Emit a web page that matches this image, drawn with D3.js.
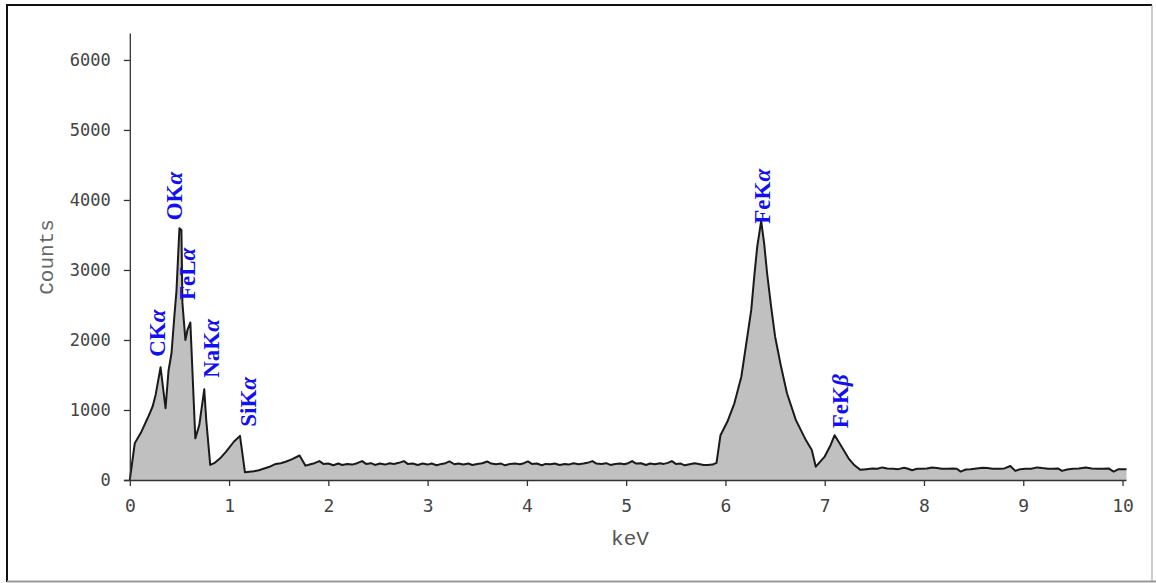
<!DOCTYPE html>
<html>
<head>
<meta charset="utf-8">
<title>EDS spectrum</title>
<script src="https://cdn.jsdelivr.net/npm/d3@7"></script>
<style>
  body { margin: 0; background: #fff; }
</style>
</head>
<body>
<svg width="1156" height="583"></svg>
<script>
// spectrum
const keV = [
  0.00, 0.05, 0.11, 0.18, 0.23, 0.26, 0.31, 0.36, 0.39, 0.42, 0.45, 0.47, 0.50, 0.52, 0.53, 0.56, 0.58, 0.61,
  0.66, 0.70, 0.75, 0.77, 0.81, 0.85, 0.91, 0.97, 1.05, 1.11, 1.16, 1.25, 1.30, 1.40, 1.47, 1.52, 1.57, 1.63,
  1.71, 1.77, 1.82, 1.86, 1.91, 1.95, 2.00, 2.05, 2.10, 2.14, 2.19, 2.24, 2.29, 2.34, 2.38, 2.43, 2.47, 2.52,
  2.57, 2.62, 2.66, 2.71, 2.76, 2.80, 2.85, 2.90, 2.95, 3.00, 3.04, 3.09, 3.14, 3.18, 3.22, 3.27, 3.31, 3.36,
  3.41, 3.45, 3.50, 3.55, 3.60, 3.64, 3.69, 3.74, 3.78, 3.83, 3.88, 3.93, 3.97, 4.01, 4.05, 4.10, 4.15, 4.19,
  4.24, 4.28, 4.33, 4.38, 4.42, 4.47, 4.52, 4.57, 4.61, 4.66, 4.70, 4.75, 4.80, 4.84, 4.89, 4.94, 4.98, 5.02,
  5.06, 5.10, 5.15, 5.20, 5.24, 5.29, 5.34, 5.38, 5.42, 5.46, 5.50, 5.55, 5.59, 5.64, 5.69, 5.73, 5.78, 5.82,
  5.87, 5.91, 5.95, 6.02, 6.09, 6.16, 6.21, 6.26, 6.29, 6.32, 6.36, 6.39, 6.42, 6.46, 6.50, 6.56, 6.62, 6.71,
  6.81, 6.87, 6.91, 7.00, 7.06, 7.10, 7.16, 7.24, 7.30, 7.36, 7.42, 7.48, 7.53, 7.58, 7.63, 7.69, 7.74, 7.80,
  7.84, 7.88, 7.93, 7.98, 8.03, 8.08, 8.13, 8.18, 8.24, 8.29, 8.33, 8.37, 8.42, 8.47, 8.53, 8.59, 8.64, 8.69,
  8.75, 8.81, 8.87, 8.92, 8.97, 9.02, 9.08, 9.14, 9.19, 9.25, 9.30, 9.35, 9.39, 9.44, 9.50, 9.56, 9.63, 9.69,
  9.75, 9.80, 9.86, 9.91, 9.96, 10.04
];
const counts = [
  0, 525, 670, 885, 1050, 1215, 1610, 1025, 1560, 1810, 2360, 2700, 3595, 3570, 2530, 2000, 2140, 2250,
  595, 785, 1295, 855, 215, 240, 310, 405, 550, 630, 110, 125, 140, 185, 230, 240, 260, 295,
  350, 205, 225, 240, 270, 230, 235, 210, 235, 215, 230, 220, 240, 270, 230, 240, 215, 235,
  220, 240, 230, 245, 270, 230, 235, 215, 235, 220, 235, 210, 230, 240, 265, 225, 235, 220,
  235, 215, 230, 240, 265, 235, 225, 235, 210, 230, 235, 225, 240, 265, 230, 235, 210, 230,
  225, 235, 215, 230, 220, 240, 225, 235, 245, 270, 235, 230, 240, 215, 230, 235, 225, 240,
  270, 235, 240, 215, 235, 225, 240, 230, 245, 270, 230, 235, 210, 225, 240, 230, 215, 215,
  220, 245, 640, 835, 1095, 1475, 1950, 2430, 2905, 3330, 3700, 3380, 2950, 2475, 2050, 1620, 1240, 855,
  570, 430, 190, 335, 500, 640, 500, 310, 210, 145, 155, 165, 160, 180, 165, 160, 155, 175,
  160, 140, 160, 160, 165, 180, 170, 160, 160, 165, 160, 120, 150, 155, 165, 175, 170, 160,
  160, 165, 200, 130, 155, 160, 160, 180, 170, 160, 160, 165, 130, 150, 160, 165, 180, 165,
  160, 160, 165, 120, 155, 155
];

const xTicks = [0, 1, 2, 3, 4, 5, 6, 7, 8, 9, 10];
const yTicks = [0, 1000, 2000, 3000, 4000, 5000, 6000];

// peak labels and where they sit (keV, counts)
const peakNames = ["CK", "OK", "FeL", "NaK", "SiK", "FeK", "FeK"];
const peakLines = ["α", "α", "α", "α", "α", "α", "β"];
const labelKeV = [0.35, 0.53, 0.66, 0.90, 1.27, 6.45, 7.23];
const labelCount = [1760, 3710, 2570, 1460, 760, 3660, 740];

const svg = d3.select("svg");

// outer frame
svg.append("line").attr("x1", 7).attr("y1", 5).attr("x2", 1152).attr("y2", 5)
  .attr("stroke", "#111").attr("stroke-width", 2);
svg.append("line").attr("x1", 7).attr("y1", 4).attr("x2", 7).attr("y2", 582)
  .attr("stroke", "#111").attr("stroke-width", 2);
svg.append("line").attr("x1", 7).attr("y1", 581.5).attr("x2", 1156).attr("y2", 581.5)
  .attr("stroke", "#999").attr("stroke-width", 2);
svg.append("line").attr("x1", 1152).attr("y1", 5).attr("x2", 1152).attr("y2", 582)
  .attr("stroke", "#999").attr("stroke-width", 1);

const x = d3.scaleLinear().domain([0, 10.04]).range([129.8, 1126.5]);
const y = d3.scaleLinear().domain([0, 6385]).range([480, 33]);

const data = keV.map((k, i) => ({k: k, c: counts[i]}));

const area = d3.area()
  .x(d => x(d.k))
  .y0(y(0))
  .y1(d => y(d.c));
const line = d3.line()
  .x(d => x(d.k))
  .y(d => y(d.c));

svg.append("path").datum(data)
  .attr("d", area)
  .attr("fill", "#c0c0c0");
svg.append("path").datum(data)
  .attr("d", line)
  .attr("fill", "none")
  .attr("stroke", "#1a1a1a")
  .attr("stroke-width", 2)
  .attr("stroke-linejoin", "round");

// axes
const yAxis = svg.append("g")
  .attr("transform", "translate(129.8,0)")
  .call(d3.axisLeft(y).tickValues(yTicks).tickFormat(d3.format("d"))
    .tickSize(6).tickPadding(13).tickSizeOuter(0));
const xAxis = svg.append("g")
  .attr("transform", "translate(0,480)")
  .call(d3.axisBottom(x).tickValues(xTicks).tickFormat(d3.format("d"))
    .tickSize(6).tickPadding(8).tickSizeOuter(0));

[xAxis, yAxis].forEach(g => {
  g.select(".domain").attr("stroke", "#333").attr("stroke-width", 1.3);
  g.selectAll(".tick line").attr("stroke", "#333").attr("stroke-width", 1.3);
  g.selectAll("text")
    .attr("fill", "#444")
    .attr("font-family", "DejaVu Sans Mono, monospace");
});
yAxis.selectAll("text").attr("font-size", 17);
xAxis.selectAll("text").attr("font-size", 18).attr("dy", null).attr("y", 32);

// the x axis line also runs left to the y tick
xAxis.select(".domain").attr("d", "M124,0.5H1126.5");

// axis titles
svg.append("text")
  .attr("x", 630)
  .attr("y", 545)
  .attr("text-anchor", "middle")
  .attr("font-family", "Liberation Mono, monospace")
  .attr("font-size", 21)
  .attr("fill", "#555")
  .text("keV");
svg.append("text")
  .attr("transform", "translate(53,257) rotate(-90)")
  .attr("text-anchor", "middle")
  .attr("font-family", "Liberation Mono, monospace")
  .attr("font-size", 21)
  .attr("fill", "#666")
  .text("Counts");

// peak labels
peakNames.forEach((name, i) => {
  const t = svg.append("text")
    .attr("transform", "translate(" + x(labelKeV[i]) + "," + y(labelCount[i]) + ") rotate(-90)")
    .attr("font-family", "Liberation Serif, serif")
    .attr("font-weight", "bold")
    .attr("font-size", 23)
    .attr("fill", "#1010f0");
  t.append("tspan").text(name);
  t.append("tspan").attr("font-style", "italic").text(peakLines[i]);
});
</script>
</body>
</html>
